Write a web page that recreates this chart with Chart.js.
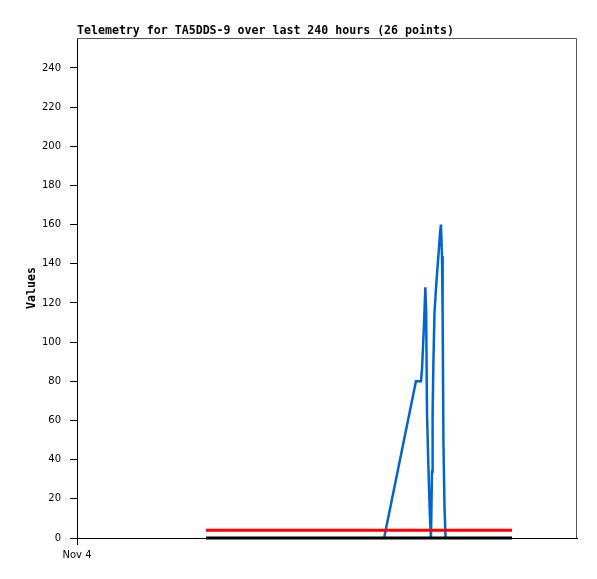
<!DOCTYPE html>
<html>
<head>
<meta charset="utf-8">
<script src="https://cdn.jsdelivr.net/npm/chart.js@4/dist/chart.umd.min.js"></script>
<style>
  html, body { margin: 0; padding: 0; background: #fff; }
  #wrap { width: 597px; height: 579px; }
</style>
</head>
<body>
<div id="wrap"><canvas id="myChart" width="597" height="579"></canvas></div>
<script>
// Hours since start of the 240 hour window
const telemetryHours = [
    147.4, 162.7, 165.1, 165.6, 166.1, 166.6, 167.2, 167.6, 168.0, 168.6,
    169.4, 169.9, 170.4, 170.7, 171.1, 171.6, 172.3, 172.9, 173.6, 174.2,
    174.7, 175.2, 175.5, 175.9, 176.4, 176.9
];
const telemetryValues = [
    0, 80, 80, 86, 98, 110, 128, 115, 64, 39,
    11, 0, 34, 64, 91, 115, 127, 136, 146, 155,
    160, 144, 115, 48, 16, 0
];
// Two flat reference lines
const refHours = [61.9, 208.8];
const redValues = [4, 4];
const blackValues = [0, 0];

const yTicks = [0, 20, 40, 60, 80, 100, 120, 140, 160, 180, 200, 220, 240];
const xTickHours = [0];
const xTickLabels = ['Nov 4'];

const toPoints = (xs, ys) => xs.map((x, i) => ({ x: x, y: ys[i] }));

// grey frame on top and right of the plot area
const framePlugin = {
    id: 'frame',
    beforeDatasetsDraw(chart) {
        const a = chart.chartArea;
        const ctx = chart.ctx;
        ctx.save();
        ctx.strokeStyle = '#555';
        ctx.lineWidth = 1;
        ctx.beginPath();
        ctx.moveTo(a.left, a.top + 0.5);
        ctx.lineTo(a.right - 0.5, a.top + 0.5);
        ctx.lineTo(a.right - 0.5, a.bottom);
        ctx.stroke();
        ctx.restore();
    }
};

const ctx = document.getElementById('myChart').getContext('2d');
new Chart(ctx, {
    type: 'line',
    data: {
        datasets: [
            {
                data: toPoints(refHours, blackValues),
                borderColor: '#000',
                borderWidth: 3,
                pointRadius: 0,
                clip: false
            },
            {
                data: toPoints(refHours, redValues),
                borderColor: '#ff0000',
                borderWidth: 3,
                pointRadius: 0,
                clip: false
            },
            {
                data: toPoints(telemetryHours, telemetryValues),
                borderColor: '#0066cc',
                borderWidth: 2.5,
                pointRadius: 0,
                tension: 0,
                clip: false
            }
        ]
    },
    options: {
        responsive: false,
        animation: false,
        layout: { padding: { left: 0, right: 20, top: 0, bottom: 0 } },
        plugins: {
            legend: { display: false },
            tooltip: { enabled: false },
            title: {
                display: true,
                text: 'Telemetry for TA5DDS-9 over last 240 hours (26 points)',
                align: 'start',
                fullSize: false,
                color: '#000',
                font: { family: 'DejaVu Sans Mono', size: 11.6, weight: 'bold', lineHeight: 1 },
                padding: { top: 25, bottom: 1.4 }
            }
        },
        scales: {
            x: {
                type: 'linear',
                min: 0,
                max: 240,
                afterBuildTicks: (scale) => {
                    scale.ticks = xTickHours.map((v) => ({ value: v }));
                },
                afterFit: (scale) => { scale.height = 41; },
                ticks: {
                    color: '#000',
                    font: { family: 'DejaVu Sans', size: 10 },
                    padding: 4,
                    maxRotation: 0,
                    callback: (value, i) => xTickLabels[i]
                },
                grid: { drawOnChartArea: false, tickLength: 7, tickColor: '#000' },
                border: { color: '#000', width: 1 }
            },
            y: {
                min: 0,
                max: 255.3,
                afterBuildTicks: (scale) => {
                    scale.ticks = yTicks.map((v) => ({ value: v }));
                },
                afterFit: (scale) => { scale.width = 77; },
                ticks: {
                    color: '#000',
                    font: { family: 'DejaVu Sans', size: 10 },
                    padding: 9
                },
                grid: { drawOnChartArea: false, tickLength: 7, tickColor: '#000' },
                border: { color: '#000', width: 1 },
                title: {
                    display: true,
                    text: 'Values',
                    color: '#000',
                    font: { family: 'DejaVu Sans Mono', size: 11.6, weight: 'bold', lineHeight: 1.2 },
                    padding: { top: 25, bottom: 0 }
                }
            }
        }
    },
    plugins: [framePlugin]
});
</script>
</body>
</html>
